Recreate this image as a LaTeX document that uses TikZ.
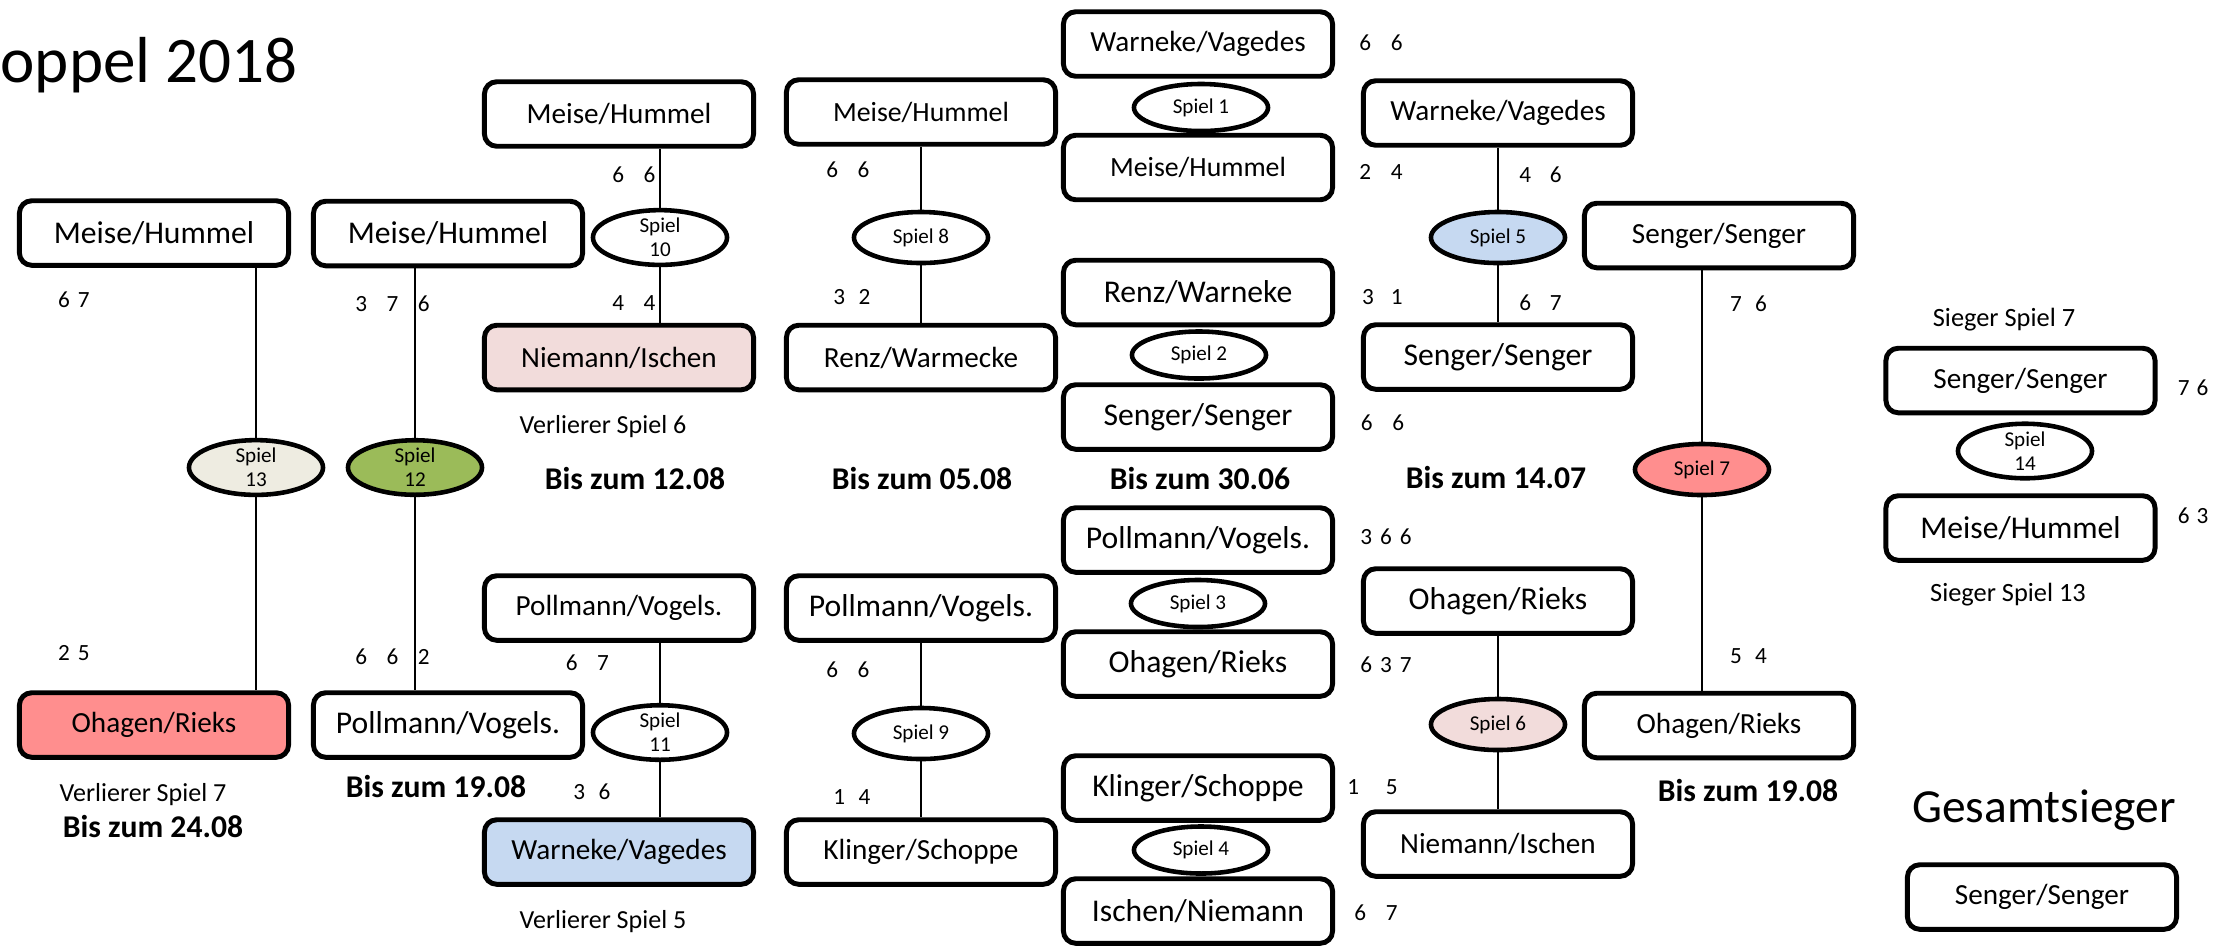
\documentclass[tikz,border=0pt]{standalone}
\usepackage{fontspec}
\setmainfont{Carlito}
\usetikzlibrary{shapes.geometric}
\definecolor{redfill}{HTML}{FF8E8E}
\definecolor{pinkfill}{HTML}{F2DCDB}
\definecolor{bluefill}{HTML}{C6D9F1}
\definecolor{greenfill}{HTML}{9BBB59}
\definecolor{beigefill}{HTML}{EEECE1}
\tikzset{
  box/.style={draw, line width=1.4pt, rounded corners=3.5pt, minimum width=2.69cm, minimum height=0.645cm, inner sep=0pt, font=\fontsize{8.3}{10}\selectfont},
  big/.style={font=\fontsize{9}{11}\selectfont},
  narrow/.style={font=\fontsize{7.9}{9.5}\selectfont},
  game/.style={draw, ellipse, line width=1.3pt, minimum width=1.34cm, minimum height=0.51cm, inner sep=0pt, align=center, font=\fontsize{6}{6.8}\selectfont},
  flat/.style={minimum height=0.47cm},
  score/.style={font=\fontsize{6.6}{7}\selectfont, inner sep=0pt},
  note/.style={font=\fontsize{7.4}{9}\selectfont, inner sep=0pt},
  due/.style={font=\bfseries\fontsize{9}{11}\selectfont, inner sep=0pt},
  conn/.style={line width=0.5pt}
}
\newcommand{\gA}{\hspace{0.195cm}}
\newcommand{\gB}{\hspace{0.135cm}}
\newcommand{\gC}{\hspace{0.08cm}}
\begin{document}
\begin{tikzpicture}[x=0.01cm, y=-0.01cm]
\useasboundingbox (0,0) rectangle (2223,947);
\fill[white] (0,0) rectangle (2223,947);

% title
\node[anchor=base west, inner sep=0pt, font=\fontsize{18.5}{22}\selectfont] (title) at (0,82) {oppel 2018};

% column A
\node[box, big] (A1) at (154,233) {Meise/Hummel};
\node[box, fill=redfill] (A2) at (154,725) {Ohagen/Rieks};
\node[game, fill=beigefill] (s13) at (256,467.5) {Spiel\\13};
\draw[conn] (s13.north) -- (s13.north |- A1.south);
\draw[conn] (s13.south) -- (s13.south |- A2.north);
\node[score] (scA1) at (74,300) {6\gC 7};
\node[score] (scA2) at (74,653) {2\gC 5};
\node[note] (lA) at (143,795) {Verlierer Spiel 7};
\node[due] (dA) at (153,826) {Bis zum 24.08};

% column B
\node[box, big] (B1) at (448,233.5) {Meise/Hummel};
\node[box, big] (B2) at (448,725) {Pollmann/Vogels.};
\node[game, fill=greenfill] (s12) at (415,467.5) {Spiel\\12};
\draw[conn] (s12.north) -- (s12.north |- B1.south);
\draw[conn] (s12.south) -- (s12.south |- B2.north);
\node[score] (scB1) at (392.5,304) {3\gA 7\gA 6};
\node[score] (scB2) at (392.5,657) {6\gA 6\gA 2};
\node[due] (dB) at (436,786) {Bis zum 19.08};

% column C
\node[box] (C1) at (619,114) {Meise/Hummel};
\node[game] (s10) at (660,237.5) {Spiel\\10};
\node[box, fill=pinkfill] (C2) at (619,357.5) {Niemann/Ischen};
\draw[conn] (s10.north) -- (s10.north |- C1.south);
\draw[conn] (s10.south) -- (s10.south |- C2.north);
\node[score] (scC1) at (634,175) {6\gA 6};
\node[score] (scC2) at (634,303) {4\gA 4};
\node[note] (lC1) at (603,427) {Verlierer Spiel 6};
\node[due] (dC) at (635,478) {Bis zum 12.08};
\node[box] (C3) at (619,608) {Pollmann/Vogels.};
\node[game] (s11) at (660,732.5) {Spiel\\11};
\node[box, fill=bluefill] (C4) at (619,852) {Warneke/Vagedes};
\draw[conn] (s11.north) -- (s11.north |- C3.south);
\draw[conn] (s11.south) -- (s11.south |- C4.north);
\node[score] (scC3) at (587.5,663) {6\gA 7};
\node[score] (scC4) at (592,792) {3\gB 6};
\node[note] (lC2) at (603,922) {Verlierer Spiel 5};

% column D
\node[box, narrow] (D1) at (921,112) {Meise/Hummel};
\node[game] (s8) at (921,237.5) {Spiel 8};
\node[box] (D2) at (921,357.5) {Renz/Warmecke};
\draw[conn] (s8.north) -- (s8.north |- D1.south);
\draw[conn] (s8.south) -- (s8.south |- D2.north);
\node[score] (scD1) at (848,170) {6\gA 6};
\node[score] (scD2) at (852,297) {3\gB 2};
\node[due] (dD) at (922,478) {Bis zum 05.08};
\node[box, big] (D3) at (921,608) {Pollmann/Vogels.};
\node[game] (s9) at (921,733.5) {Spiel 9};
\node[box] (D4) at (921,852) {Klinger/Schoppe};
\draw[conn] (s9.north) -- (s9.north |- D3.south);
\draw[conn] (s9.south) -- (s9.south |- D4.north);
\node[score] (scD3) at (848,670) {6\gA 6};
\node[score] (scD4) at (852,797) {1\gB 4};

% column E
\node[box] (E1) at (1198,44) {Warneke/Vagedes};
\node[game, flat] (s1) at (1201,107.5) {Spiel 1};
\node[box, narrow] (E2) at (1198,167.5) {Meise/Hummel};
\node[score] (scE1) at (1381,43) {6\gA 6};
\node[score] (scE2) at (1381,172) {2\gA 4};
\node[box, big] (E3) at (1198,292.5) {Renz/Warneke};
\node[game, flat] (s2) at (1199,355) {Spiel 2};
\node[box, big] (E4) at (1198,417) {Senger/Senger};
\node[score] (scE3) at (1382.5,297) {3\hspace{0.17cm}1};
\node[score] (scE4) at (1382.5,423) {6\gA 6};
\node[due] (dE) at (1200,478) {Bis zum 30.06};
\node[box, big] (E5) at (1198,540) {Pollmann/Vogels.};
\node[game, flat] (s3) at (1198,603.5) {Spiel 3};
\node[box, big] (E6) at (1198,664) {Ohagen/Rieks};
\node[score] (scE5) at (1386,537) {3\gC 6\gC 6};
\node[score] (scE6) at (1386,665) {6\gC 3\gC 7};
\node[box, big] (E7) at (1198,788) {Klinger/Schoppe};
\node[game, flat] (s4) at (1201,850) {Spiel 4};
\node[box, big] (E8) at (1198,911) {Ischen/Niemann};
\node[score] (scE7) at (1372.5,787) {1\hspace{0.265cm}5};
\node[score] (scE8) at (1376,913) {6\gA 7};

% column F
\node[box] (F1) at (1498,113) {Warneke/Vagedes};
\node[game, fill=bluefill] (s5) at (1498,237.5) {Spiel 5};
\node[box, big] (F2) at (1498,357) {Senger/Senger};
\draw[conn] (s5.north) -- (s5.north |- F1.south);
\draw[conn] (s5.south) -- (s5.south |- F2.north);
\node[score] (scF1) at (1540.5,175) {4\hspace{0.185cm}6};
\node[score] (scF2) at (1540.5,303) {6\hspace{0.185cm}7};
\node[due] (dF) at (1496,477) {Bis zum 14.07};
\node[box, big] (F3) at (1498,601) {Ohagen/Rieks};
\node[game, fill=pinkfill] (s6) at (1498,724.5) {Spiel 6};
\node[box] (F4) at (1498,844) {Niemann/Ischen};
\draw[conn] (s6.north) -- (s6.north |- F3.south);
\draw[conn] (s6.south) -- (s6.south |- F4.north);

% column G
\node[box] (G1) at (1719,235.5) {Senger/Senger};
\node[game, fill=redfill] (s7) at (1702,469.5) {Spiel 7};
\node[box] (G2) at (1719,725.5) {Ohagen/Rieks};
\draw[conn] (s7.north) -- (s7.north |- G1.south);
\draw[conn] (s7.south) -- (s7.south |- G2.north);
\node[score] (scG1) at (1748.5,304) {7\hspace{0.13cm}6};
\node[score] (scG2) at (1748.5,656) {5\hspace{0.13cm}4};
\node[due] (dG) at (1748,790) {Bis zum 19.08};

% column H
\node[note, font=\fontsize{7.5}{9}\selectfont] (lH1) at (2004,320) {Sieger Spiel 7};
\node[box] (H1) at (2020.5,380.5) {Senger/Senger};
\node[game] (s14) at (2025,451) {Spiel\\14};
\node[box, big] (H2) at (2020.5,528) {Meise/Hummel};
\node[score] (scH1) at (2193,388) {7\hspace{0.07cm}6};
\node[score] (scH2) at (2193,516) {6\hspace{0.07cm}3};
\node[note, font=\fontsize{7.5}{9}\selectfont] (lH2) at (2008,595) {Sieger Spiel 13};
\node[inner sep=0pt, font=\fontsize{13.5}{16}\selectfont] (gs) at (2044,810) {Gesamtsieger};
\node[box] (H3) at (2042,897) {Senger/Senger};
\end{tikzpicture}
\end{document}
